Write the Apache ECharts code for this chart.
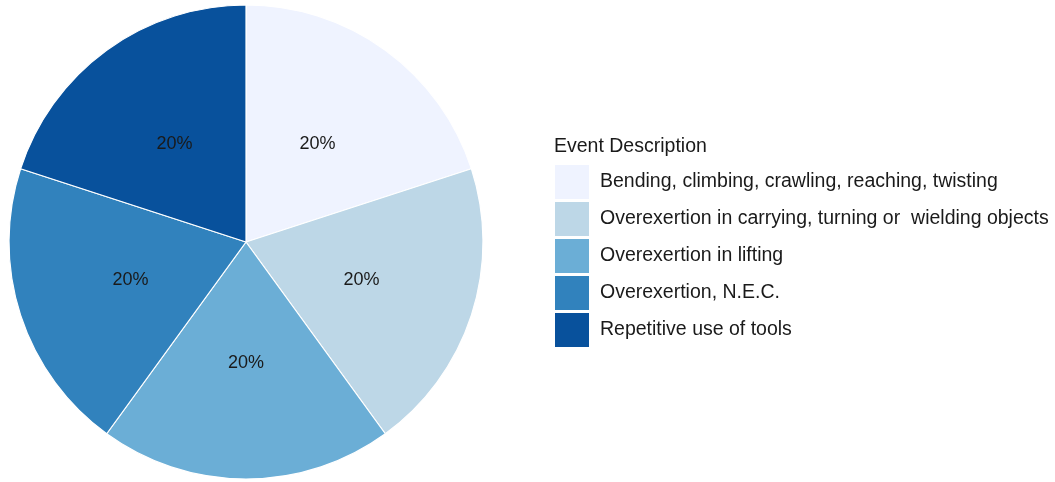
<!DOCTYPE html>
<html><head><meta charset="utf-8">
<script src="https://cdn.jsdelivr.net/npm/echarts@6/dist/echarts.min.js"></script>
<style>html,body{margin:0;padding:0;background:#fff}#c{width:1055px;height:482px}</style>
</head><body><div id="c"></div>
<script>
const categories = [
  "Bending, climbing, crawling, reaching, twisting",
  "Overexertion in carrying, turning or  wielding objects",
  "Overexertion in lifting",
  "Overexertion, N.E.C.",
  "Repetitive use of tools"
];
const values = [20, 20, 20, 20, 20];
const colors = ["#EFF3FF", "#BDD7E7", "#6BAED6", "#3182BD", "#08519C"];
const legendTitle = "Event Description";

const chart = echarts.init(document.getElementById('c'), null, {renderer: 'canvas'});
chart.setOption({
  animation: false,
  backgroundColor: '#ffffff',
  title: {
    text: legendTitle, left: 554, top: 137, padding: 0,
    textStyle: {fontFamily: 'Liberation Sans, Arial, sans-serif', fontSize: 19.5, fontWeight: 'normal', color: '#1a1a1a'}
  },
  legend: {
    orient: 'vertical', left: 555, top: 165, padding: 0,
    itemWidth: 34, itemHeight: 34, itemGap: 3, icon: 'rect',
    itemStyle: {borderWidth: 0},
    textStyle: {fontFamily: 'Liberation Sans, Arial, sans-serif', fontSize: 19.5, color: '#1a1a1a', padding: [2, 0, 0, 6]},
    data: categories
  },
  series: [{
    type: 'pie',
    center: [246, 242], radius: [0, 237],
    startAngle: 90, clockwise: true,
    itemStyle: {borderColor: '#ffffff', borderWidth: 1.2},
    label: {
      show: true, position: 'inside',
      formatter: p => Math.round(p.percent) + '%',
      fontFamily: 'Liberation Sans, Arial, sans-serif', fontSize: 18, color: '#1a1a1a'
    },
    labelLine: {show: false},
    emphasis: {disabled: true},
    data: categories.map((c, i) => ({name: c, value: values[i], itemStyle: {color: colors[i]}}))
  }]
});
</script></body></html>
